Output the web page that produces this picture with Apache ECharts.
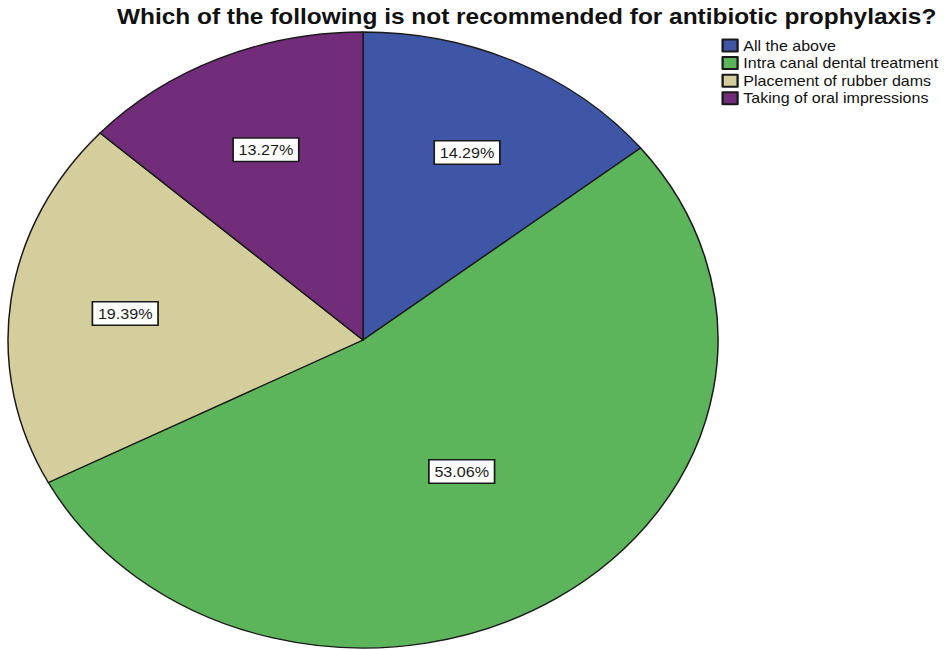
<!DOCTYPE html>
<html>
<head>
<meta charset="utf-8">
<script src="https://cdn.jsdelivr.net/npm/echarts@6/dist/echarts.min.js"></script>
<style>
  html, body { margin: 0; padding: 0; background: #fff; overflow: hidden; }
  #wrap { width: 945px; height: 650px; overflow: hidden; position: relative; }
  /* the chart is drawn with a circular pie and widened horizontally to an oval */
  #chart { width: 945px; height: 650px; transform: scaleX(1.1526); transform-origin: 363px 0; }
</style>
</head>
<body>
<div id="wrap"><div id="chart"></div></div>
<script>
const titleText = 'Which of the following is not recommended for antibiotic prophylaxis?';
const categories = ['All the above', 'Intra canal dental treatment', 'Placement of rubber dams', 'Taking of oral impressions'];
const percents = [14.29, 53.06, 19.39, 13.27];
const colors = ['#3F55A6', '#5CB55B', '#D4CE9C', '#712C7A'];

const labelBox = {
  color: '#1a1a1a',
  fontFamily: 'Liberation Sans, Arial, sans-serif',
  fontSize: 14,
  backgroundColor: '#ffffff',
  borderColor: '#1a1a1a',
  borderWidth: 1.5,
  padding: [4, 4, 4, 4],
  formatter: '{c}%'
};

// the large slice carries its label at half radius; the others sit further out
const bigIndex = percents.indexOf(Math.max(...percents));

const chart = echarts.init(document.getElementById('chart'), null, { renderer: 'svg' });
chart.setOption({
  animation: false,
  color: colors,
  title: {
    text: titleText,
    left: 500,
    top: 1,
    textAlign: 'center',
    textStyle: { fontFamily: 'Liberation Sans, Arial, sans-serif', fontWeight: 'bold', fontSize: 21.2, color: '#111' }
  },
  legend: {
    orient: 'vertical',
    left: 674,
    top: 38.5,
    padding: 0,
    icon: 'rect',
    itemWidth: 13,
    itemHeight: 12,
    itemGap: 3.6,
    data: categories,
    selectedMode: false,
    textStyle: { fontFamily: 'Liberation Sans, Arial, sans-serif', fontSize: 13.9, color: '#111' }
  },
  series: [
    {
      type: 'pie',
      center: [363, 340],
      radius: [0, 308],
      startAngle: 90,
      clockwise: true,
      silent: true,
      itemStyle: { borderColor: '#1a1a1a', borderWidth: 1.3 },
      labelLine: { show: false },
      data: categories.map((name, i) => ({
        name: name,
        value: percents[i],
        label: Object.assign({ show: i === bigIndex, position: 'inside' }, labelBox)
      }))
    },
    {
      // transparent carrier for the labels of the smaller slices
      type: 'pie',
      center: [363, 340],
      radius: [0, 410],
      startAngle: 90,
      clockwise: true,
      silent: true,
      legendHoverLink: false,
      itemStyle: { color: 'rgba(0,0,0,0)', borderWidth: 0 },
      labelLine: { show: false },
      z: 3,
      data: categories.map((name, i) => ({
        name: name,
        value: percents[i],
        label: Object.assign({ show: i !== bigIndex, position: 'inside' }, labelBox)
      }))
    }
  ]
});
</script>
</body>
</html>
